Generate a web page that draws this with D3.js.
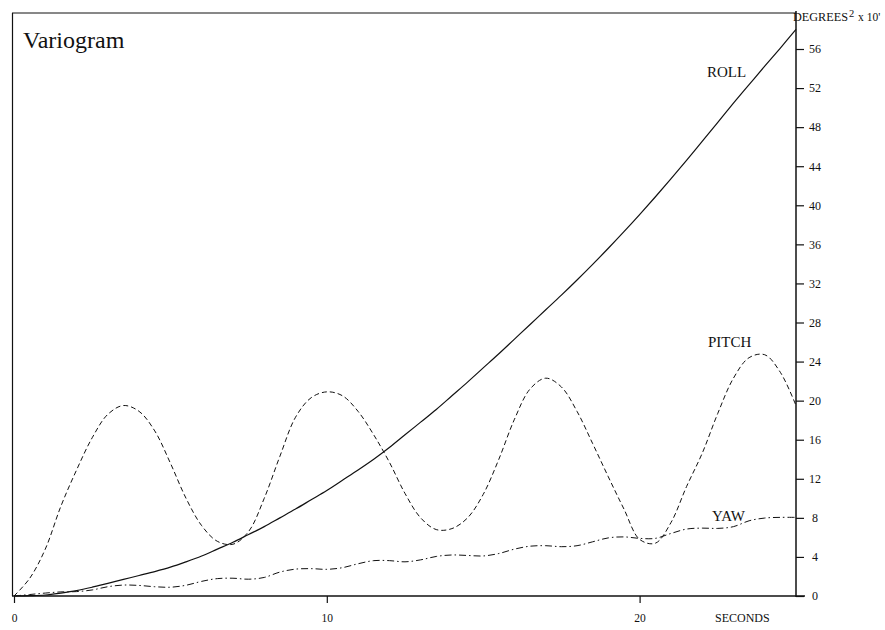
<!DOCTYPE html>
<html>
<head>
<meta charset="utf-8">
<script src="https://cdn.jsdelivr.net/npm/d3@7/dist/d3.min.js"></script>
<style>
  html, body { margin: 0; padding: 0; background: #fff; }
  svg { display: block; font-family: "Liberation Serif", "DejaVu Serif", serif; }
</style>
</head>
<body>
<svg id="chart" width="885" height="630"></svg>
<script>
// ---- data ----
const seconds = [0,0.5,1,1.5,2,2.5,3,3.5,4,4.5,5,5.5,6,6.5,7,7.5,8,8.5,9,9.5,10,10.5,11,11.5,12,12.5,13,13.5,14,14.5,15,15.5,16,16.5,17,17.5,18,18.5,19,19.5,20,20.5,21,21.5,22,22.5,23,23.5,24,24.5,25];
const roll  = [0,0.03,0.1,0.3,0.55,0.9,1.3,1.7,2.1,2.5,2.95,3.5,4.1,4.8,5.5,6.3,7.1,8.0,8.9,9.85,10.8,11.85,12.9,14.0,15.2,16.5,17.8,19.1,20.5,21.9,23.35,24.8,26.3,27.8,29.3,30.8,32.35,33.95,35.6,37.3,39.05,40.85,42.7,44.6,46.55,48.5,50.45,52.35,54.25,56.1,58];
const pitch = [0,1.8,4.8,9.2,12.9,16.2,18.6,19.5,18.9,16.9,13.6,10.0,7.2,5.6,5.3,6.6,10.0,14.3,18.3,20.3,20.9,20.5,18.9,16.5,13.7,10.5,8.0,6.8,6.9,8.0,10.4,14.0,18.1,21.2,22.3,21.4,18.9,15.6,12.2,8.9,5.8,5.4,7.5,11.2,14.6,18.7,22.3,24.4,24.7,22.9,19.5];
const yaw   = [0,0.15,0.3,0.42,0.45,0.62,0.95,1.12,1.08,0.95,0.9,1.1,1.5,1.78,1.82,1.72,1.9,2.45,2.75,2.8,2.73,2.9,3.3,3.62,3.62,3.5,3.7,4.05,4.2,4.15,4.1,4.35,4.8,5.1,5.15,5.05,5.15,5.55,5.95,6.05,5.9,5.9,6.4,6.85,6.95,6.92,7.1,7.7,7.98,8.05,8.05];
const yTicks = [0,4,8,12,16,20,24,28,32,36,40,44,48,52,56];
const xTicks = [0,10,20];
const seriesNames = ["ROLL","PITCH","YAW"];

(function () {
  const svg = d3.select("#chart");
  const pL = 14, pR = 796, pT = 13, pB = 596;
  const x = d3.scaleLinear().domain([0, 25]).range([pL, pR]);
  const y = d3.scaleLinear().domain([0, 56]).range([pB, 49]);
  const ink = "#111";

  // frame: top and left borders
  svg.append("line").attr("x1", 12).attr("x2", pR).attr("y1", pT).attr("y2", pT)
    .attr("stroke", ink).attr("stroke-width", 1);
  svg.append("line").attr("x1", 12.5).attr("x2", 12.5).attr("y1", pT).attr("y2", pB)
    .attr("stroke", ink).attr("stroke-width", 1.2);

  // right axis
  const yAxis = svg.append("g").attr("transform", `translate(${pR},0)`)
    .call(d3.axisRight(y).tickValues(yTicks).tickSize(8).tickSizeOuter(0).tickFormat(d3.format("d")));
  yAxis.select(".domain").remove();
  yAxis.selectAll(".tick line").attr("stroke", ink).attr("stroke-width", 1.2);
  yAxis.selectAll(".tick text").attr("x", 19).attr("text-anchor", "middle")
    .attr("font-family", "Liberation Serif").attr("font-size", 12).attr("fill", ink);
  svg.append("line").attr("x1", pR).attr("x2", pR).attr("y1", pT - 2).attr("y2", pB + 1)
    .attr("stroke", ink).attr("stroke-width", 1.5);

  // bottom axis
  const xAxis = svg.append("g").attr("transform", `translate(0,${pB})`)
    .call(d3.axisBottom(x).tickValues(xTicks).tickSize(7).tickSizeOuter(0).tickFormat(d3.format("d")));
  xAxis.select(".domain").remove();
  xAxis.selectAll(".tick line").attr("stroke", ink).attr("stroke-width", 1.2);
  xAxis.selectAll(".tick text").attr("y", 26).attr("dy", 0)
    .attr("font-family", "Liberation Serif").attr("font-size", 11.5).attr("fill", ink);
  svg.append("line").attr("x1", 12).attr("x2", pR + 9).attr("y1", pB).attr("y2", pB)
    .attr("stroke", ink).attr("stroke-width", 1.6);

  // series
  const line = vals => d3.line()
    .x((d, i) => x(seconds[i]))
    .y(d => y(d))
    .curve(d3.curveCatmullRom.alpha(0.5))(vals);

  svg.append("path").attr("d", line(roll)).attr("fill", "none")
    .attr("stroke", ink).attr("stroke-width", 1.2);
  svg.append("path").attr("d", line(pitch)).attr("fill", "none")
    .attr("stroke", ink).attr("stroke-width", 1).attr("stroke-dasharray", "5,3");
  svg.append("path").attr("d", line(yaw)).attr("fill", "none")
    .attr("stroke", ink).attr("stroke-width", 1).attr("stroke-dasharray", "7,3,1.5,3");

  // labels
  const lbl = (t, px, py, size) => svg.append("text").attr("x", px).attr("y", py)
    .attr("font-size", size).attr("fill", ink).text(t);
  lbl("Variogram", 23, 48, 24);
  lbl(seriesNames[0], 707, 77, 15);
  lbl(seriesNames[1], 708, 347, 15);
  lbl(seriesNames[2], 712, 521, 15);
  lbl("SECONDS", 715, 622, 12);

  lbl("DEGREES", 793, 21, 11.5).attr("textLength", 55).attr("lengthAdjust", "spacingAndGlyphs");
  lbl("2", 849, 17, 10.5);
  lbl("x 10'", 858, 21, 11.5);
})();
</script>
</body>
</html>
